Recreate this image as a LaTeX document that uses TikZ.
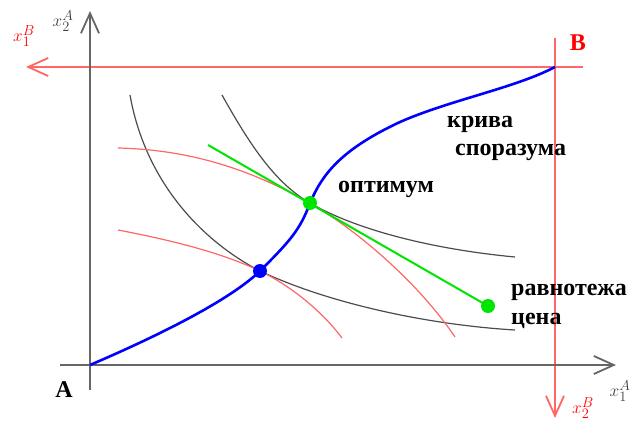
\documentclass[tikz,border=0pt]{standalone}
\usepackage{fontspec}
\setmainfont{Liberation Serif}
\usetikzlibrary{arrows.meta}

\begin{document}
\begin{tikzpicture}[x=1pt, y=-1pt, >={Straight Barb[length=20pt,width=18pt]},
    axisA/.style={draw=black!60, line width=1.8pt},
    axisB/.style={draw=red!60, line width=1.8pt},
    icA/.style={draw=black!70, line width=1.2pt},
    icB/.style={draw=red!60, line width=1.2pt},
    contract/.style={draw=blue, line width=2.6pt},
    dot/.style={circle, fill=#1, inner sep=0pt, minimum size=14pt},
    lbl/.style={font=\fontsize{24}{26}\selectfont\bfseries, inner sep=0pt},
    axlbl/.style={font=\fontsize{19}{22}\selectfont, inner sep=0pt}]
    \useasboundingbox (0,0) rectangle (633,425);

    % Edgeworth box corners
    \coordinate (A) at (90,365);
    \coordinate (B) at (555,67);
    \coordinate (eq) at (260,271);
    \coordinate (opt) at (310,203);
    \coordinate (pend) at (488,306);
    \coordinate (pstart) at (208,145);
    \coordinate (yAtop) at (90,11);
    \coordinate (yAbot) at (90,390);
    \coordinate (xAleft) at (60,365);
    \coordinate (xAright) at (616,365);
    \coordinate (xBleft) at (26,67);
    \coordinate (xBright) at (583,67);
    \coordinate (yBtop) at (555,38);
    \coordinate (yBbot) at (555,418);

    % Axes of B (red) and of A (black)
    \draw[axisB,->] (xBright) -- (xBleft);
    \draw[axisB,->] (yBtop) -- (yBbot);
    \draw[axisA,->] (yAbot) -- (yAtop);
    \draw[axisA,->] (xAleft) -- (xAright);

    % Indifference curves of A
    \draw[icA] (130,95) .. controls (145,180) and (200,240) .. (eq)
                        .. controls (330,304) and (430,325) .. (515,330);
    \draw[icA] (222,95) .. controls (250,145) and (275,183) .. (opt)
                        .. controls (360,232) and (440,250) .. (515,257);

    % Indifference curves of B
    \draw[icB] (118,148) .. controls (200,150) and (260,175) .. (opt)
                         .. controls (360,232) and (420,285) .. (455,337);
    \draw[icB] (118,230) .. controls (170,240) and (220,252) .. (eq)
                         .. controls (295,288) and (325,315) .. (342,338);

    % Contract curve
    \draw[contract] (A) .. controls (160,335) and (230,300) .. (eq)
                        .. controls (290,241) and (300,230) .. (opt)
                        .. controls (322,175) and (340,150) .. (400,122)
                        .. controls (450,100) and (515,88) .. (B);

    % Price line
    \draw[draw=green!90!black, line width=2pt] (pstart) -- (pend);

    \node[dot=blue] (eqdot) at (eq) {};
    \node[dot=green!90!black] (optdot) at (opt) {};
    \node[dot=green!90!black] (pdot) at (pend) {};

    % Labels
    \node[lbl] (lA) at (64,390) {A};
    \node[lbl, text=red] (lB) at (578,43) {B};
    \node[axlbl, text=black!75] (lxA2) at (63,21) {$x_2^A$};
    \node[axlbl, text=black!75] (lxA1) at (620,391) {$x_1^A$};
    \node[axlbl, text=red] (lxB1) at (24,36) {$x_1^B$};
    \node[axlbl, text=red] (lxB2) at (583,408) {$x_2^B$};
    \node[lbl, anchor=west] (lkr) at (447,124) {крива};
    \node[lbl, anchor=west] (lsp) at (455,152) {споразума};
    \node[lbl, anchor=west] (lopt) at (338,189) {оптимум};
    \node[lbl, anchor=west] (lrav) at (511,292) {равнотежа};
    \node[lbl, anchor=west] (lcena) at (511,321) {цена};
\end{tikzpicture}
\end{document}
